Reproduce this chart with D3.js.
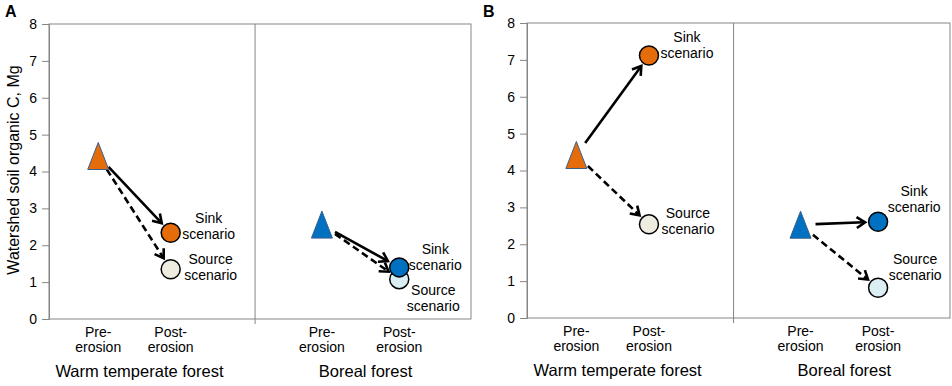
<!DOCTYPE html>
<html>
<head>
<meta charset="utf-8">
<script src="https://cdn.jsdelivr.net/npm/d3@7"></script>
<style>
  html, body { margin: 0; padding: 0; background: #fff; }
  svg { display: block; font-family: "Liberation Sans", Arial, sans-serif; }
</style>
</head>
<body>
<svg id="chart" width="952" height="386"></svg>
<script>
// ---------- data ----------
const panelNames = ["A", "B"];
const groups = ["Warm temperate forest", "Boreal forest"];
const stageLabels = [["Pre-", "erosion"], ["Post-", "erosion"]];
const scenarioNames = ["Sink", "Source"];
const yTicks = [0, 1, 2, 3, 4, 5, 6, 7, 8];
const yTitle = "Watershed soil organic C, Mg";

// values per group: [warm temperate, boreal]
const preA    = [4.42, 2.56];
const sinkA   = [2.34, 1.40];
const sourceA = [1.35, 1.08];
const preB    = [4.42, 2.53];
const sinkB   = [7.12, 2.61];
const sourceB = [2.54, 0.82];

// ---------- styles / layout ----------
const groupColors  = ["#E46C0A", "#0070C0"];
const sourceColors = ["#EEECE1", "#DAEEF3"];
const panelLayout = [
  { left: 49,  top: 24, width: 422, height: 295 },
  { left: 527, top: 23, width: 423, height: 295 }
];
// x slots in axis units (domain 0..6): pre, post for each group, divider
const slotPre = [0.70, 3.88], slotPost = [1.73, 4.98], slotDivider = 2.93;
// label offsets (px) from circle centre: [dx, first-baseline dy]
const labelOffsets = [
  [[[38, -10], [40, -5]], [[36, -13], [34, 16]]],
  [[[38, -13], [39, -6]], [[36, -26], [37, -24]]]
];

const panelData = [
  { pre: preA, sink: sinkA, source: sourceA },
  { pre: preB, sink: sinkB, source: sourceB }
];

const svg = d3.select("#chart");
const axisColor = "#868686";

// arrowhead helper
function arrow(g, x1, y1, x2, y2, dashed, startOff, endOff) {
  const dx = x2 - x1, dy = y2 - y1, L = Math.hypot(dx, dy);
  const ux = dx / L, uy = dy / L;
  const sx = x1 + ux * startOff, sy = y1 + uy * startOff;
  const ex = x2 - ux * endOff, ey = y2 - uy * endOff;
  g.append("line")
    .attr("x1", sx).attr("y1", sy).attr("x2", ex - ux * 1.5).attr("y2", ey - uy * 1.5)
    .attr("stroke", "#000").attr("stroke-width", 2.6)
    .attr("stroke-dasharray", dashed ? "7,4" : null);
  const hl = 10, ang = Math.PI / 5.5;
  const a = Math.atan2(uy, ux);
  const p1 = [ex - hl * Math.cos(a - ang), ey - hl * Math.sin(a - ang)];
  const p2 = [ex - hl * Math.cos(a + ang), ey - hl * Math.sin(a + ang)];
  g.append("path")
    .attr("d", `M${p1[0]},${p1[1]}L${ex},${ey}L${p2[0]},${p2[1]}`)
    .attr("fill", "none").attr("stroke", "#000").attr("stroke-width", 2.6)
    .attr("stroke-linejoin", "miter").attr("stroke-linecap", "butt");
}

panelData.forEach((pd, pi) => {
  const L = panelLayout[pi];
  const g = svg.append("g").attr("transform", `translate(${L.left},${L.top})`);
  const x = d3.scaleLinear().domain([0, 6]).range([0, L.width]);
  const y = d3.scaleLinear().domain([0, 8]).range([L.height, 0]);

  // frame
  g.append("rect").attr("x", 0).attr("y", 0).attr("width", L.width).attr("height", L.height)
    .attr("fill", "none").attr("stroke", axisColor).attr("stroke-width", 1);
  // divider
  g.append("line").attr("x1", x(slotDivider)).attr("x2", x(slotDivider))
    .attr("y1", 0).attr("y2", L.height + 5)
    .attr("stroke", axisColor).attr("stroke-width", 1);

  // y axis
  const ya = g.append("g").call(d3.axisLeft(y).tickValues(yTicks).tickFormat(d3.format("d"))
      .tickSize(7).tickPadding(5));
  ya.select(".domain").attr("stroke", axisColor);
  ya.selectAll(".tick line").attr("stroke", axisColor);
  ya.selectAll(".tick text").attr("font-size", 14).attr("fill", "#000")
    .attr("font-family", "'Liberation Sans', Arial, sans-serif");

  // panel letter
  svg.append("text").attr("x", L.left - 44).attr("y", 17)
    .attr("font-size", 16).attr("font-weight", "bold").text(panelNames[pi]);

  groups.forEach((gname, gi) => {
    const xp = x(slotPre[gi]), xq = x(slotPost[gi]);
    const yp = y(pd.pre[gi]), ys = y(pd.sink[gi]), yo = y(pd.source[gi]);

    // arrows
    arrow(g, xp, yp, xq, ys, false, 15, 13);
    arrow(g, xp, yp, xq, yo, true, 16, 13);

    // triangle (pre-erosion)
    const tw = 21, th = 27;
    g.append("path")
      .attr("d", `M${xp},${yp - th / 2}L${xp + tw / 2},${yp + th / 2}L${xp - tw / 2},${yp + th / 2}Z`)
      .attr("fill", groupColors[gi]).attr("stroke", "#3A5F8F").attr("stroke-width", 1);

    // circles: source first, then sink on top
    g.append("circle").attr("cx", xq).attr("cy", yo).attr("r", 9.5)
      .attr("fill", sourceColors[gi]).attr("stroke", "#000").attr("stroke-width", 1.5);
    g.append("circle").attr("cx", xq).attr("cy", ys).attr("r", 9.5)
      .attr("fill", groupColors[gi]).attr("stroke", "#000").attr("stroke-width", 1.5);

    // scenario labels
    [[ys, 0], [yo, 1]].forEach(([cy, si]) => {
      const off = labelOffsets[pi][gi][si];
      const t = g.append("text").attr("text-anchor", "middle").attr("font-size", 14).attr("fill", "#000");
      t.append("tspan").attr("x", xq + off[0]).attr("y", cy + off[1]).text(scenarioNames[si]);
      t.append("tspan").attr("x", xq + off[0]).attr("y", cy + off[1] + 16).text("scenario");
    });

    // stage labels
    [xp, xq].forEach((cx, k) => {
      const t = g.append("text").attr("text-anchor", "middle").attr("font-size", 14).attr("fill", "#000");
      t.append("tspan").attr("x", cx).attr("y", L.height + 18).text(stageLabels[k][0]);
      t.append("tspan").attr("x", cx).attr("y", L.height + 33).text(stageLabels[k][1]);
    });

    // group label
    g.append("text").attr("x", (xp + xq) / 2 + 5).attr("y", L.height + 58)
      .attr("text-anchor", "middle").attr("font-size", 16.5).attr("fill", "#000").text(gname);
  });

  // y title only on panel A
  if (pi === 0) {
    svg.append("text")
      .attr("transform", `translate(18.5,${L.top + 146}) rotate(-90)`)
      .attr("text-anchor", "middle").attr("font-size", 16).attr("fill", "#000")
      .text(yTitle);
  }
});
</script>
</body>
</html>
